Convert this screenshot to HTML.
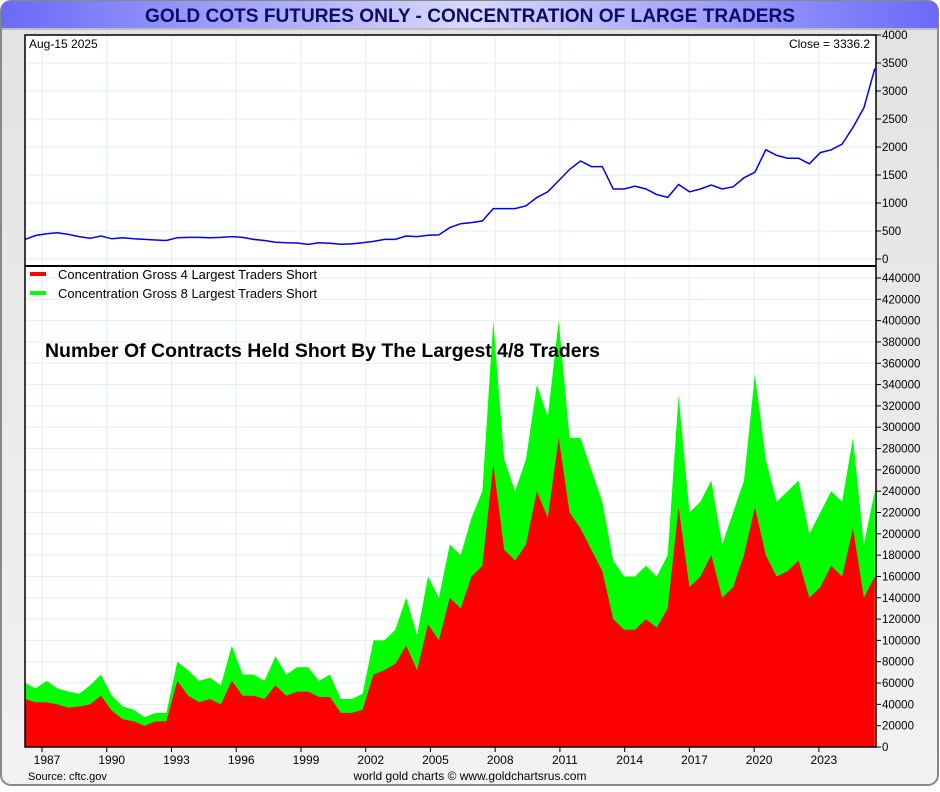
<!DOCTYPE html>
<html><head><meta charset="utf-8">
<style>
html,body{margin:0;padding:0;background:#fff;}
body{width:940px;height:787px;overflow:hidden;font-family:"Liberation Sans",sans-serif;}
</style></head>
<body>
<svg id="chart" width="940" height="787" xmlns="http://www.w3.org/2000/svg" font-family="Liberation Sans, sans-serif">
<defs>
<linearGradient id="tg" x1="0" x2="1" y1="0" y2="0">
<stop offset="0" stop-color="#6a6af8"/><stop offset="0.5" stop-color="#d8d8ff"/><stop offset="1" stop-color="#6a6af8"/>
</linearGradient>
<linearGradient id="bg" x1="0" x2="0" y1="0" y2="1">
<stop offset="0" stop-color="#e2e2e2"/><stop offset="1" stop-color="#f2f2f2"/>
</linearGradient>
</defs>
<rect x="1" y="1" width="937" height="784" rx="10" fill="url(#bg)" stroke="#888" stroke-width="2"/>
<path d="M1,28 L1,11 Q1,1 11,1 L928,1 Q938,1 938,11 L938,28 Z" fill="url(#tg)"/>
<line x1="1" y1="29" x2="938" y2="29" stroke="#999" stroke-width="1"/>
<text x="470" y="22" text-anchor="middle" font-size="19" font-weight="bold" fill="#0c0c66" textLength="650" lengthAdjust="spacingAndGlyphs">GOLD COTS FUTURES ONLY - CONCENTRATION OF LARGE TRADERS</text>
<rect x="25" y="35" width="851" height="712" fill="#fff"/>
<g id="grid"></g>
<g id="marks"></g>
<g id="axes"></g>
<rect x="25" y="35" width="851" height="712" fill="none" stroke="#000" stroke-width="1.5"/>
<line x1="25" y1="266" x2="876" y2="266" stroke="#000" stroke-width="2"/>
<text x="29" y="48" font-size="12" fill="#000">Aug-15  2025</text>
<text x="870" y="48" font-size="12" fill="#000" text-anchor="end">Close = 3336.2</text>
<rect x="30" y="272" width="16" height="4" fill="#ff0000"/>
<text x="58" y="279" font-size="13" fill="#000" textLength="259" lengthAdjust="spacingAndGlyphs">Concentration Gross 4 Largest Traders Short</text>
<rect x="30" y="291" width="16" height="4" fill="#00ff00"/>
<text x="58" y="298" font-size="13" fill="#000" textLength="259" lengthAdjust="spacingAndGlyphs">Concentration Gross 8 Largest Traders Short</text>
<text x="45" y="357" font-size="19" font-weight="bold" fill="#000" textLength="555" lengthAdjust="spacingAndGlyphs">Number Of Contracts Held Short By The Largest 4/8 Traders</text>
<text x="28" y="780" font-size="11" fill="#000">Source: cftc.gov</text>
<text x="470" y="780" font-size="12" fill="#000" text-anchor="middle">world gold charts © www.goldchartsrus.com</text>
</svg>
<script>
const startYear = 1986.2;
const stepYears = 0.505;
const goldPrice = [350,420,450,470,440,400,370,410,360,380,360,350,340,330,380,385,385,380,385,400,385,350,330,300,290,285,260,290,280,265,270,290,315,350,350,410,400,425,430,560,630,650,680,900,900,900,950,1100,1200,1400,1600,1750,1650,1650,1250,1250,1300,1250,1150,1100,1330,1200,1250,1320,1250,1290,1450,1550,1950,1850,1800,1800,1700,1900,1950,2050,2350,2700,3400];
const gross8 = [60,55,62,55,52,50,58,68,48,38,35,28,32,32,80,72,62,65,58,95,68,68,62,85,68,75,75,62,68,45,45,50,100,100,110,140,105,160,140,190,180,215,240,400,270,240,270,340,310,400,290,290,260,230,175,160,160,170,160,180,330,220,230,250,190,220,250,350,270,230,240,250,200,220,240,230,290,190,240];
const gross4 = [45,42,42,40,37,38,40,48,34,26,24,20,24,24,62,48,42,45,40,62,48,48,45,58,48,52,52,47,47,32,32,35,68,72,78,95,72,115,100,140,130,160,170,265,185,175,190,240,215,290,220,205,185,165,120,110,110,120,112,130,225,150,160,180,140,150,180,225,180,160,165,175,140,150,170,160,205,140,160];
const yearTicks = [1987,1990,1993,1996,1999,2002,2005,2008,2011,2014,2017,2020,2023];
const priceTicks = [0,500,1000,1500,2000,2500,3000,3500,4000];
const contractTicks = [0,20000,40000,60000,80000,100000,120000,140000,160000,180000,200000,220000,240000,260000,280000,300000,320000,340000,360000,380000,400000,420000,440000];

const NS = "http://www.w3.org/2000/svg";
const X0 = 25, X1 = 876;
function xScale(yr){ return Math.max(X0, Math.min(X1, 42 + (yr - 1987) * 21.58)); }
function yPrice(v){ return 259 - v * 0.056; }
function yCont(v){ return 747 - v * (469 / 440000); }
function mk(tag, attrs, parent){ const e = document.createElementNS(NS, tag); for (const k in attrs) e.setAttribute(k, attrs[k]); parent.appendChild(e); return e; }
const grid = document.getElementById('grid');
const marks = document.getElementById('marks');
const axes = document.getElementById('axes');

yearTicks.forEach(y => {
  const x = xScale(y);
  const g = mk('line', {x1:x, x2:x, y1:35, y2:747, stroke:'#e3eef8', 'stroke-width':1}, grid);
  
  
  const t = mk('line', {x1:x, x2:x, y1:747, y2:752, stroke:'#000'}, axes);
  
  
  const l = mk('text', {x:x+5, y:764, 'font-size':12, 'text-anchor':'middle', fill:'#000'}, axes);
  l.textContent = y;
  
  
});
priceTicks.forEach(v => {
  const y = yPrice(v);
  const g = mk('line', {x1:X0, x2:X1, y1:y, y2:y, stroke:'#e3eef8'}, grid);
  
  
  const t = mk('line', {x1:X1, x2:X1+5, y1:y, y2:y, stroke:'#000'}, axes);
  
  
  const l = mk('text', {x:882, y:y+4, 'font-size':11.5, fill:'#000'}, axes);
  l.textContent = v;
  
  
});
contractTicks.forEach(v => {
  const y = yCont(v);
  const g = mk('line', {x1:X0, x2:X1, y1:y, y2:y, stroke:'#e3eef8'}, grid);
  
  
  const t = mk('line', {x1:X1, x2:X1+5, y1:y, y2:y, stroke:'#000'}, axes);
  
  
  const l = mk('text', {x:882, y:y+4, 'font-size':11.5, fill:'#000'}, axes);
  l.textContent = v;
  
  
});

function areaPath(arr){
  let d = 'M' + xScale(startYear) + ',' + yCont(0);
  arr.forEach((v,i) => { d += ' L' + xScale(startYear + i*stepYears).toFixed(1) + ',' + yCont(v*1000).toFixed(1); });
  d += ' L' + xScale(startYear + (arr.length-1)*stepYears) + ',' + yCont(0) + ' Z';
  return d;
}
const a8 = mk('path', {d: areaPath(gross8), fill:'#00ff00'}, marks);


const a4 = mk('path', {d: areaPath(gross4), fill:'#ff0000'}, marks);


let pd = '';
goldPrice.forEach((v,i) => { pd += (i ? ' L' : 'M') + xScale(startYear + i*stepYears).toFixed(1) + ',' + yPrice(v).toFixed(1); });
const pl = mk('path', {d: pd, fill:'none', stroke:'#0000ee', 'stroke-width':1.5}, marks);


</script>
</body></html>
